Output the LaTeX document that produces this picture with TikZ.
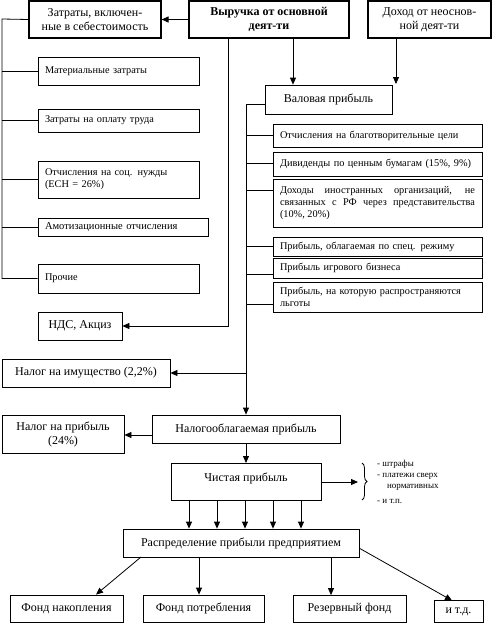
\documentclass[tikz,border=0pt]{standalone}
\usepackage{fontspec}
\setmainfont{Liberation Serif}
\usetikzlibrary{arrows.meta,decorations.pathreplacing}
\begin{document}
\begin{tikzpicture}[x=1pt,y=-1pt,
  ln/.style={line width=0.8pt},
  arr/.style={line width=0.8pt,-{Triangle[length=7pt,width=6pt]}},
  bx/.style={draw,line width=0.8pt,inner sep=0pt,align=center,font=\fontsize{12}{14}\selectfont},
  thk/.style={line width=1.1pt},
  sm/.style={draw,line width=0.8pt,inner ysep=0pt,inner xsep=7pt,align=left,font=\fontsize{10.3}{12}\selectfont},
  sz/.style n args={2}{minimum width=#1pt,minimum height=#2pt},
  tw/.style={text width=#1pt}
]
\useasboundingbox (0,0) rectangle (492,624);
% top row
\node[bx,thk,sz={132}{37}] (zatr) at (95,19.5) {Затраты, включен-\\ные в себестоимость};
\node[bx,thk,sz={160}{37},font=\fontsize{12}{14}\selectfont\bfseries] (vyr) at (269,19.5) {Выручка от основной\\деят-ти};
\node[bx,thk,sz={123}{37}] (doh) at (429.5,19.5) {Доход от неоснов-\\ной деят-ти};
% left column
\node[sm,sz={161}{28},tw={147}] (m1) at (118.5,71) {Материальные затраты};
\node[sm,sz={161}{23},tw={147}] (m2) at (118.5,120.5) {Затраты на оплату труда};
\node[sm,sz={161}{37},tw={147}] (m3) at (118.5,179.5) {Отчисления на соц. нужды\\(ЕСН = 26\%)};
\node[sm,sz={170}{18},tw={156},font=\fontsize{10.5}{12}\selectfont] (m4) at (123,227) {Амотизационные отчисления};
\node[sm,sz={161}{29},tw={147}] (m5) at (118.5,278.5) {Прочие};
\node[bx,sz={84}{28}] (nds) at (80,326) {НДС, Акциз};
% valovaya
\node[bx,sz={127}{29}] (val) at (328.5,99.5) {Валовая прибыль};
% right column
\node[sm,sz={209}{23},tw={195}] (r1) at (377.5,135.5) {Отчисления на благотворительные цели};
\node[sm,sz={209}{24},tw={195}] (r2) at (377.5,164) {Дивиденды по ценным бумагам (15\%, 9\%)};
\node[sm,sz={209}{48},tw={195},align=justify] (r3) at (377.5,203) {Доходы иностранных организаций, не связанных с РФ через представительства (10\%, 20\%)};
\node[sm,sz={209}{19},tw={195}] (r4) at (377.5,246.5) {Прибыль, облагаемая по спец. режиму};
\node[sm,sz={209}{20},tw={195}] (r5) at (377.5,268) {Прибыль игрового бизнеса};
\node[sm,sz={209}{30},tw={195}] (r6) at (377.5,297) {Прибыль, на которую распространяются\\льготы};
% taxes
\node[bx,sz={168}{28}] (imu) at (86,373) {Налог на имущество (2,2\%)};
\node[bx,sz={188}{28}] (nob) at (246,429) {Налогооблагаемая прибыль};
\node[bx,sz={122}{38}] (npr) at (63,434) {Налог на прибыль\\(24\%)};
\node[bx,sz={150}{37},anchor=north,inner ysep=9pt,text height=9pt,text depth=10pt] (chi) at (246,463) {Чистая прибыль};
\node[bx,sz={236}{28}] (ras) at (241,543) {Распределение прибыли предприятием};
% funds
\node[bx,sz={113}{27}] (f1) at (66.5,608.5) {Фонд накопления};
\node[bx,sz={121}{27}] (f2) at (203.5,608.5) {Фонд потребления};
\node[bx,sz={113}{27}] (f3) at (349.5,609) {Резервный фонд};
\node[bx,sz={49}{22}] (f4) at (458.5,611.5) {и т.д.};
% side note
\node[anchor=north west,align=left,inner sep=0pt,font=\fontsize{9}{11}\selectfont] (note) at (377,460.5) {- штрафы\\- платежи сверх\\\hspace*{1.1em}нормативных\\[4pt]- и т.п.};
\coordinate (br1) at (362,463);
\coordinate (br2) at (362,500);
\draw[ln,decorate,decoration={brace,amplitude=5pt}] (br1) -- (br2);
% connectors
\draw[arr] (vyr.west) -- (zatr.east);
\coordinate (L) at (2,19);
\draw[ln] (zatr.west) -- (L) -- (L |- m5.west) -- (m5.west);
\foreach \n in {m1,m2,m3,m4} \draw[ln] (L |- \n.west) -- (\n.west);
\coordinate (V) at (228,38);
\draw[arr] (V) |- (nds.east);
\draw[arr] (vyr.south -| 293,0) -- (val.north -| 293,0);
\coordinate (dend) at (396,84);
\draw[arr] (doh.south -| dend) -- (dend);
\coordinate (R) at (246,104);
\draw[ln] (val.west |- R) -- (R);
\draw[arr] (R) -- (nob.north);
\foreach \n/\yy in {r1/135,r2/163,r3/190,r4/246,r5/274,r6/304} \draw[ln] (246,\yy) -- (\n.west |- 0,\yy);
\draw[arr] (R |- imu.east) -- (imu.east);
\draw[arr] (nob.west |- 0,435) -- (npr.east |- 0,435);
\draw[arr] (nob.south) -- (chi.north);
\coordinate (bt) at (358,482);
\draw[arr] (chi.east |- bt) -- (bt);
\foreach \xx in {189,217,245,273,301} \draw[arr] (chi.south -| \xx,0) -- (ras.north -| \xx,0);
\coordinate (a1) at (141,557);
\draw[arr] (a1) -- (f1.north -| 96,0);
\draw[arr] (ras.south -| 199,0) -- (f2.north -| 199,0);
\draw[arr] (ras.south -| 331,0) -- (f3.north -| 331,0);
\coordinate (a4) at (359,548);
\draw[arr] (a4) -- (452,600.5);
\end{tikzpicture}
\end{document}
